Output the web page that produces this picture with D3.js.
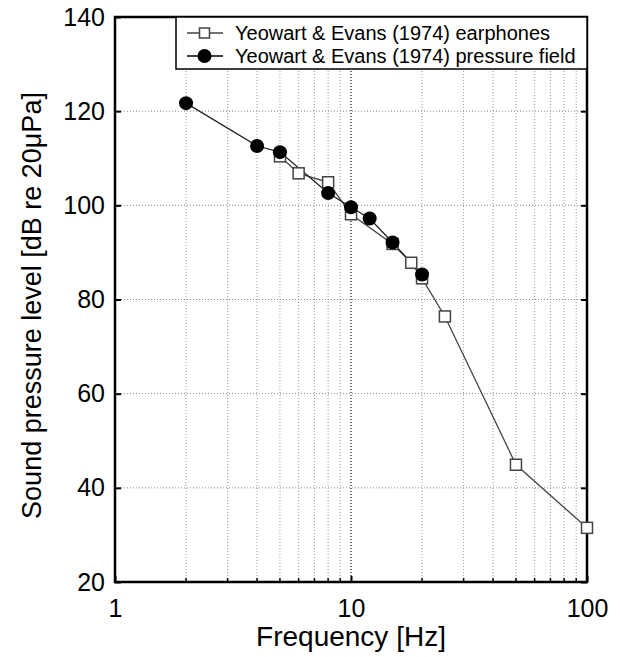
<!DOCTYPE html>
<html>
<head>
<meta charset="utf-8">
<script src="https://cdn.jsdelivr.net/npm/d3@7"></script>
<style>
  body { margin: 0; background: #fff; }
  svg { font-family: "Liberation Sans", Arial, sans-serif; }
</style>
</head>
<body>
<svg id="chart" width="620" height="657"></svg>
<script>
// earphones (open squares)
var earFreq = [5, 6, 8, 10, 15, 18, 20, 25, 50, 100];
var earLevel = [110.4, 106.8, 104.9, 98.1, 91.8, 87.8, 84.5, 76.4, 44.9, 31.5];
// pressure field (filled circles)
var fieldFreq = [2, 4, 5, 8, 10, 12, 15, 20];
var fieldLevel = [121.7, 112.6, 111.3, 102.6, 99.6, 97.2, 92.1, 85.3];

var yTicks = [20, 40, 60, 80, 100, 120, 140];
var xTicks = [1, 10, 100];
var legendNames = ["Yeowart & Evans (1974) earphones", "Yeowart & Evans (1974) pressure field"];

var margin = {top: 17, right: 33, bottom: 75, left: 115},
    width = 620 - margin.left - margin.right,
    height = 657 - margin.top - margin.bottom;

var svg = d3.select("#chart")
  .append("g")
  .attr("transform", "translate(" + margin.left + "," + margin.top + ")");

var x = d3.scaleLog().domain([1, 100]).range([0, width]);
var y = d3.scaleLinear().domain([20, 140]).range([height, 0]);

// minor frequencies for grid
var minor = [];
[1, 10].forEach(function(d) { for (var k = 2; k <= 9; k++) minor.push(d * k); });

// vertical grid
svg.append("g").selectAll("line")
  .data(minor.concat([10]))
  .enter().append("line")
    .attr("x1", d => x(d)).attr("x2", d => x(d))
    .attr("y1", 0).attr("y2", height)
    .attr("stroke", d => d === 10 ? "#444" : "#999")
    .attr("stroke-width", d => d === 10 ? 1.5 : 1)
    .attr("stroke-dasharray", "1,2");

// horizontal grid
svg.append("g").selectAll("line")
  .data(yTicks.slice(1, -1))
  .enter().append("line")
    .attr("x1", 0).attr("x2", width)
    .attr("y1", d => y(d)).attr("y2", d => y(d))
    .attr("stroke", "#888")
    .attr("stroke-dasharray", "1,2");

// axes with inward ticks
var xAxis = svg.append("g")
  .attr("transform", "translate(0," + height + ")")
  .call(d3.axisBottom(x).tickValues(xTicks).tickFormat(d3.format("d")).tickSizeInner(-6).tickSizeOuter(0).tickPadding(17));
xAxis.append("g").selectAll("line")
  .data(minor)
  .enter().append("line")
    .attr("x1", d => x(d)).attr("x2", d => x(d))
    .attr("y1", 0).attr("y2", -4)
    .attr("stroke", "#000").attr("stroke-width", 1.5);

svg.append("g")
  .call(d3.axisLeft(y).tickValues(yTicks).tickSizeInner(-6).tickSizeOuter(0).tickPadding(10));
svg.append("g")
  .attr("transform", "translate(" + width + ",0)")
  .call(d3.axisRight(y).tickValues(yTicks).tickSizeInner(-6).tickSizeOuter(0).tickFormat(""));

svg.selectAll(".domain").remove();
svg.selectAll(".tick line").attr("stroke", "#000").attr("stroke-width", 2);
svg.selectAll(".tick text").attr("font-size", 25).attr("fill", "#000")
  .attr("font-family", "'Liberation Sans', Arial, sans-serif");

// frame
svg.append("rect")
  .attr("x", 0).attr("y", 0).attr("width", width).attr("height", height)
  .attr("fill", "none").attr("stroke", "#000").attr("stroke-width", 2.5);

var line = d3.line().x(d => x(d[0])).y(d => y(d[1]));
var ear = d3.zip(earFreq, earLevel);
var field = d3.zip(fieldFreq, fieldLevel);

svg.append("path").datum(ear)
  .attr("d", line).attr("fill", "none").attr("stroke", "#444").attr("stroke-width", 1.3);
svg.append("path").datum(field)
  .attr("d", line).attr("fill", "none").attr("stroke", "#222").attr("stroke-width", 1.3);

svg.append("g").selectAll("rect")
  .data(ear)
  .enter().append("rect")
    .attr("x", d => x(d[0]) - 5.5).attr("y", d => y(d[1]) - 5.5)
    .attr("width", 11).attr("height", 11)
    .attr("fill", "#fff").attr("stroke", "#444").attr("stroke-width", 1.5);

svg.append("g").selectAll("circle")
  .data(field)
  .enter().append("circle")
    .attr("cx", d => x(d[0])).attr("cy", d => y(d[1])).attr("r", 7)
    .attr("fill", "#000");

// legend
var lg = svg.append("g").attr("transform", "translate(" + (width - 411) + ",0)");
lg.append("rect").attr("width", 411).attr("height", 52)
  .attr("fill", "#fff").attr("stroke", "#000").attr("stroke-width", 1.5);
legendNames.forEach(function(name, i) {
  var row = lg.append("g").attr("transform", "translate(0," + (16 + i * 23) + ")");
  row.append("line").attr("x1", 11).attr("x2", 47).attr("y1", 0).attr("y2", 0)
    .attr("stroke", i === 0 ? "#444" : "#000").attr("stroke-width", 1.3);
  if (i === 0) {
    row.append("rect").attr("x", 23.5).attr("y", -5).attr("width", 10).attr("height", 10)
      .attr("fill", "#fff").attr("stroke", "#444").attr("stroke-width", 1.5);
  } else {
    row.append("circle").attr("cx", 28.5).attr("r", 7).attr("fill", "#000");
  }
  row.append("text").attr("x", 59).attr("y", 7).attr("font-size", 20)
    .attr("fill", "#000").text(name);
});

// axis titles
svg.append("text")
  .attr("x", width / 2).attr("y", height + 64)
  .attr("text-anchor", "middle").attr("font-size", 28).text("Frequency [Hz]");
svg.append("text")
  .attr("transform", "translate(-74," + (height / 2 + 6) + ") rotate(-90)")
  .attr("text-anchor", "middle").attr("font-size", 27).text("Sound pressure level [dB re 20μPa]");
</script>
</body>
</html>
